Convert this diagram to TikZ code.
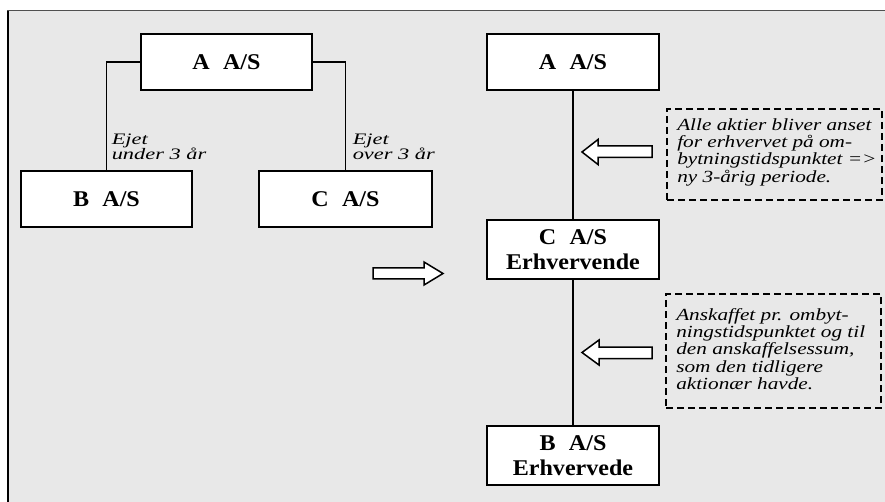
\documentclass[tikz,border=0pt]{standalone}
\usepackage{fontspec}
\setmainfont{Liberation Serif}
\definecolor{panel}{HTML}{E8E8E8}
\definecolor{rim}{HTML}{505050}

\begin{document}
\begin{tikzpicture}[x=1pt,y=-1pt,
  company/.style={draw, line width=1.6pt, fill=white, inner sep=0pt,
    minimum width=172pt, minimum height=56pt},
  companytext/.style={inner sep=0pt, align=center, xscale=1.07, transform shape,
    font=\bfseries\fontsize{22.5}{25}\selectfont},
  link/.style={line width=1.2pt},
  notebox/.style={draw, line width=1.4pt, dash pattern=on 7pt off 4pt, inner sep=0pt},
  notetext/.style={inner sep=0pt, align=left, xscale=1.25, transform shape,
    anchor=north west, font=\itshape\fontsize{17}{17.3}\selectfont},
  tag/.style={inner sep=0pt, align=left, anchor=north west, xscale=1.4, transform shape,
    font=\itshape\fontsize{16}{15.3}\selectfont},
  hollow/.style={draw, line width=1.5pt, fill=white, line join=miter}]

\useasboundingbox (0,0) rectangle (885,502);

% panel
\fill[panel] (8.5,10.5) rectangle (885,502);
\draw[rim, line width=1.7pt] (7.4,10.6) -- (885,10.6);
\draw[black, line width=1.7pt] (8.2,10.6) -- (8.2,502);

% before the exchange
\node[company, minimum width=171pt] (A1) at (226.5,62) {};
\node[company, minimum width=171pt] (B1) at (106.5,199) {};
\node[company, minimum width=173pt] (C1) at (345.5,199) {};
\node[companytext] (A1t) at (A1.center) {A\hspace{0.55em}A/S};
\node[companytext] (B1t) at (B1.center) {B\hspace{0.55em}A/S};
\node[companytext] (C1t) at (C1.center) {C\hspace{0.55em}A/S};

\draw[link] (A1.west) -| (B1.north);
\draw[link] (A1.east) -| (C1.north);

\node[tag] (tb) at (111.5,133.3) {Ejet\\under 3 år};
\node[tag] (tc) at (352.5,133.3) {Ejet\\over 3 år};

% transition arrow
\draw[hollow] (373,268) -- (424,268) -- (424,262) -- (443,273.5)
  -- (424,285) -- (424,279) -- (373,279) -- cycle;

% after the exchange
\node[company] (A2) at (573,62) {};
\node[company, minimum height=59pt] (C2) at (573,249.5) {};
\node[company, minimum height=59pt] (B2) at (573,455.5) {};
\node[companytext] (A2t) at (A2.center) {A\hspace{0.55em}A/S};
\node[companytext] (C2t) at (C2.center) {C\hspace{0.55em}A/S\\Erhvervende};
\node[companytext] (B2t) at (B2.center) {B\hspace{0.55em}A/S\\Erhvervede};

\draw[link] (A2.south) -- (C2.north);
\draw[link] (C2.south) -- (B2.north);

% remarks
\node[notebox, minimum width=215pt, minimum height=91pt] (n1) at (774.5,154.5) {};
\node[notetext] (n1t) at (677,118.4)
  {Alle aktier bliver anset\\for erhvervet på om-\\bytningstidspunktet =>\\ny 3-årig periode.};

\node[notebox, minimum width=215pt, minimum height=114pt] (n2) at (773.5,351) {};
\node[notetext] (n2t) at (676,308)
  {Anskaffet pr. ombyt-\\ningstidspunktet og til\\den anskaffelsessum,\\som den tidligere\\aktionær havde.};

\draw[hollow] (652,146) -- (598,146) -- (598,139.5) -- (582,152)
  -- (598,164.5) -- (598,157.5) -- (652,157.5) -- cycle;
\draw[hollow] (652,347) -- (599,347) -- (599,340) -- (582,352.5)
  -- (599,365) -- (599,358.5) -- (652,358.5) -- cycle;

\end{tikzpicture}
\end{document}
